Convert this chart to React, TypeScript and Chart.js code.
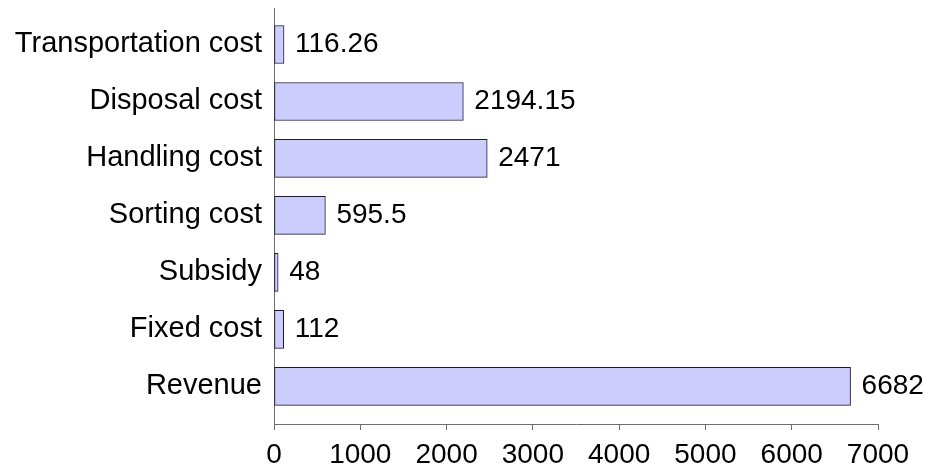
import { useEffect, useRef } from "react";
import { Chart, registerables } from "chart.js";

Chart.register(...registerables);

const categories = [
  "Transportation cost",
  "Disposal cost",
  "Handling cost",
  "Sorting cost",
  "Subsidy",
  "Fixed cost",
  "Revenue",
];
const values = [116.26, 2194.15, 2471, 595.5, 48, 112, 6682];
const valueLabels = ["116.26", "2194.15", "2471", "595.5", "48", "112", "6682"];
const xTicks = [0, 1000, 2000, 3000, 4000, 5000, 6000, 7000];

const FONT = "'Liberation Sans', Arial, sans-serif";
const AXIS_COLOR = "#6e6e6e";

const valueLabelPlugin = {
  id: "valueLabels",
  afterDatasetsDraw(chart: any) {
    const ctx = chart.ctx;
    const meta = chart.getDatasetMeta(0);
    ctx.save();
    ctx.font = `28px ${FONT}`;
    ctx.fillStyle = "#000";
    ctx.textAlign = "left";
    ctx.textBaseline = "middle";
    meta.data.forEach((el: any, i: number) => {
      ctx.fillText(valueLabels[i], el.x + 11, el.y);
    });
    ctx.restore();
  },
};

export default function App() {
  const ref = useRef<HTMLCanvasElement | null>(null);
  useEffect(() => {
    if (!ref.current) return;
    const chart = new Chart(ref.current, {
      type: "bar",
      data: {
        datasets: [
          {
            data: values.map((v, i) => ({ x: v, y: i })),
            backgroundColor: "#ccccff",
            borderColor: "#1a1a33",
            borderWidth: 1,
            borderSkipped: false,
            barThickness: 38,
          },
        ],
      },
      options: {
        indexAxis: "y",
        responsive: false,
        animation: false,
        layout: { padding: { top: 8, right: 48, left: 0, bottom: 0 } },
        plugins: {
          legend: { display: false },
          tooltip: { enabled: false },
        },
        scales: {
          x: {
            type: "linear",
            position: "bottom",
            min: 0,
            max: 7000,
            offset: false,
            afterBuildTicks: (axis: any) => {
              axis.ticks = xTicks.map((v) => ({ value: v }));
            },
            afterFit: (scale: any) => {
              scale.height = 46;
              scale.paddingLeft = 0;
              scale.paddingRight = 0;
            },
            grid: {
              drawOnChartArea: false,
              drawTicks: true,
              tickLength: 6,
              color: AXIS_COLOR,
              offset: false,
            },
            border: { display: true, color: AXIS_COLOR, width: 1 },
            ticks: {
              color: "#000",
              font: { family: FONT, size: 28 },
              padding: 8,
              maxRotation: 0,
              autoSkip: false,
              callback: (v: any) => String(v),
            },
          },
          y: {
            type: "linear",
            position: "left",
            min: -0.64,
            max: 6.66,
            reverse: true,
            offset: false,
            afterBuildTicks: (axis: any) => {
              axis.ticks = categories.map((_, i) => ({ value: i }));
            },
            afterFit: (scale: any) => {
              scale.width = 274;
              scale.paddingTop = 0;
              scale.paddingBottom = 0;
            },
            grid: { drawOnChartArea: false, drawTicks: false, offset: false },
            border: { display: true, color: AXIS_COLOR, width: 1 },
            ticks: {
              color: "#000",
              font: { family: FONT, size: 29 },
              padding: 12,
              autoSkip: false,
              callback: (v: any) => categories[v as number] ?? "",
            },
          },
        },
      },
      plugins: [valueLabelPlugin],
    });
    return () => chart.destroy();
  }, []);
  return (
    <div style={{ position: "absolute", left: 0, top: 0, width: 926, height: 470, background: "#fff" }}>
      <canvas ref={ref} width={926} height={470} style={{ display: "block" }} />
    </div>
  );
}
